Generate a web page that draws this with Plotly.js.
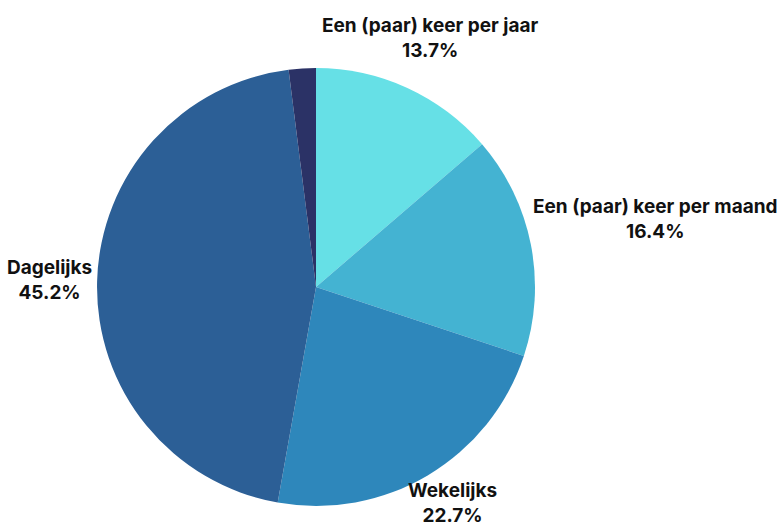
<!DOCTYPE html>
<html><head><meta charset="utf-8">
<script src="https://cdn.plot.ly/plotly-3.0.1.min.js"></script>
<style>html,body{margin:0;padding:0;background:#fff;}#chart{width:780px;height:530px;}</style>
</head><body><div id="chart"></div>
<script>
const categories = ["Een (paar) keer per jaar", "Een (paar) keer per maand", "Wekelijks", "Dagelijks", "Minder vaak"];
const values = [13.7, 16.4, 22.7, 45.2, 2.0];
const showLabel = [true, true, true, true, false];
const colors = ["#66E0E6", "#44B3D2", "#2E87BB", "#2C5F96", "#2B3266"];

const W = 780, H = 530;
const domX = [0.1244, 0.6859], domY = [0.0453, 0.8717];
const FONT_FAMILY = "Inter, sans-serif";
const FONT_SIZE = 19;
const FONT_WEIGHT = 700;
const LINE_H = FONT_SIZE * 1.3;
const GAP = 5;
const EDGE = 2;

// pie geometry in pixels (as Plotly computes it from the domain)
const pcx = W * (domX[0] + domX[1]) / 2;
const pcy = H * (1 - (domY[0] + domY[1]) / 2);
const pr = Math.min(W * (domX[1] - domX[0]), H * (domY[1] - domY[0])) / 2;

const ctx = document.createElement("canvas").getContext("2d");
ctx.font = FONT_WEIGHT + " " + FONT_SIZE + "px " + FONT_FAMILY;

const total = values.reduce((a, b) => a + b, 0);
let cum = 0;
const annotations = [];
values.forEach((v, i) => {
  const mid = (cum + v / 2) / total;
  cum += v;
  if (!showLabel[i]) return;
  const line1 = categories[i];
  const line2 = v.toFixed(1) + "%";
  const bw = Math.max(ctx.measureText(line1).width, ctx.measureText(line2).width);
  const bh = 2 * LINE_H;
  const th = 2 * Math.PI * mid;
  const dx = Math.sin(th), dy = -Math.cos(th);
  let d = pr;
  for (; d < pr + 400; d += 0.5) {
    const bx = pcx + d * dx, by = pcy + d * dy;
    const nx = Math.max(bx - bw / 2, Math.min(pcx, bx + bw / 2));
    const ny = Math.max(by - bh / 2, Math.min(pcy, by + bh / 2));
    if (Math.hypot(nx - pcx, ny - pcy) >= pr + GAP) break;
  }
  let x = pcx + d * dx, y = pcy + d * dy;
  // keep the label box inside the picture
  x = Math.min(Math.max(x, bw / 2 + EDGE), W - bw / 2 - EDGE);
  y = Math.min(Math.max(y, bh / 2 + EDGE), H - bh / 2 - EDGE);
  annotations.push({
    xref: "paper", yref: "paper", x: x / W, y: 1 - y / H,
    xanchor: "center", yanchor: "middle", showarrow: false, align: "center",
    text: line1 + "<br>" + line2,
    font: {family: FONT_FAMILY, size: FONT_SIZE, color: "#111", weight: FONT_WEIGHT}
  });
});

Plotly.newPlot("chart", [{
  type: "pie",
  labels: categories,
  values: values,
  sort: false,
  direction: "clockwise",
  rotation: 0,
  marker: {colors: colors, line: {width: 0}},
  textinfo: "none",
  hoverinfo: "none",
  showlegend: false,
  domain: {x: domX, y: domY}
}], {
  width: W, height: H,
  margin: {l: 0, r: 0, t: 0, b: 0},
  paper_bgcolor: "#fff",
  showlegend: false,
  annotations: annotations
}, {displayModeBar: false, staticPlot: true});
</script></body></html>
